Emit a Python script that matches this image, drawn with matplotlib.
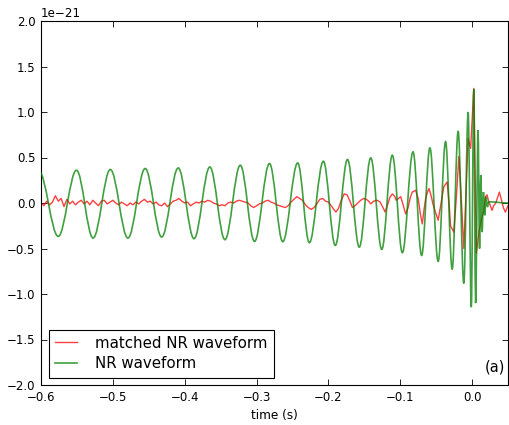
import numpy as np
import matplotlib
matplotlib.use("Agg")
import matplotlib.pyplot as plt
from matplotlib.path import Path
from matplotlib.patches import PathPatch
from matplotlib.lines import Line2D

# strain values are in units of 1e-21
SCALE = 1e-21

# NR waveform: times and values of its successive peaks and troughs
nr_t = [-0.603, -0.576, -0.5506, -0.5275, -0.5035, -0.479, -0.455, -0.432,
        -0.409, -0.387, -0.365, -0.344, -0.3226, -0.3028, -0.282, -0.2635,
        -0.2427, -0.2265, -0.207, -0.1904, -0.1734, -0.157, -0.141, -0.1257,
        -0.111, -0.097, -0.0822, -0.0702, -0.0587, -0.0472, -0.0369, -0.0277,
        -0.0194, -0.0115, -0.0055, -0.0011, 0.0024, 0.0049, 0.0083, 0.0104,
        0.0121, 0.0140, 0.0158, 0.0176, 0.0194, 0.0214, 0.0232, 0.050]
nr_v = [0.35, -0.367, 0.36, -0.385, 0.368, -0.385, 0.379, -0.374,
        0.385, -0.392, 0.396, -0.403, 0.415, -0.422, 0.434, -0.425,
        0.440, -0.436, 0.459, -0.466, 0.478, -0.485, 0.496, -0.51,
        0.525, -0.546, 0.562, -0.576, 0.606, -0.642, 0.675, -0.726,
        0.79, -0.884, 1.00, -1.145, 1.25, -1.10, 0.80, -0.50,
        0.305, -0.32, 0.12, -0.135, 0.066, -0.044, 0.013, 0.0]

# matched NR waveform, early part sampled every 4 ms from -0.600 s to -0.200 s
matched_early_t = np.arange(-0.600, -0.1999, 0.004)
matched_early_v = [0.00, -0.03, 0.02, -0.02, 0.01, 0.08, 0.02, 0.05, -0.04, 0.04,
                   -0.01, 0.02, -0.02, 0.01, 0.03, -0.01, 0.02, -0.02, 0.03, 0.00,
                   -0.03, 0.02, 0.03, -0.01, 0.01, 0.03, 0.00, -0.02, 0.01, -0.01,
                   -0.03, 0.00, -0.02, 0.01, -0.01, 0.02, 0.04, 0.01, 0.02, -0.01,
                   0.01, -0.02, -0.03, 0.00, -0.04, -0.01, 0.02, 0.03, 0.05, 0.02,
                   0.00, 0.01, -0.03, -0.01, 0.01, 0.00, 0.02, 0.01, 0.03, 0.02,
                   0.00, -0.01, -0.03, -0.02, -0.03, 0.00, 0.01, 0.00, 0.02, 0.03,
                   0.02, 0.01, 0.00, -0.03, -0.05, -0.03, -0.01, 0.00, 0.02, 0.03,
                   0.01, 0.00, -0.02, -0.03, -0.04, -0.05, -0.03, 0.01, 0.04, 0.07,
                   0.05, 0.03, -0.02, -0.05, -0.07, -0.05, -0.01, 0.04, 0.05, 0.02,
                   0.01]

# matched NR waveform, late part
matched_late_t = [-0.196, -0.1925, -0.1895, -0.186, -0.182, -0.178, -0.174, -0.170,
                  -0.1665, -0.163, -0.159, -0.155, -0.151, -0.147, -0.144, -0.141,
                  -0.137, -0.132, -0.128, -0.124, -0.121, -0.118, -0.1145, -0.111,
                  -0.1075, -0.1055, -0.1025, -0.0993, -0.096, -0.0924, -0.089, -0.086,
                  -0.0832, -0.0785, -0.075, -0.072, -0.0693, -0.067, -0.0646, -0.062,
                  -0.060, -0.057, -0.0545, -0.051, -0.0472, -0.0435, -0.0393, -0.0347,
                  -0.032, -0.030, -0.0254, -0.022, -0.0184, -0.015, -0.0115, -0.0085,
                  -0.0055, -0.002, 0.0024, 0.006, 0.010, 0.014, 0.0162, 0.0186,
                  0.0208, 0.023, 0.0255, 0.0277, 0.030, 0.033, 0.0355, 0.038,
                  0.041, 0.0435, 0.0463, 0.050]
matched_late_v = [-0.03, -0.07, -0.10, -0.06, 0.03, 0.10, 0.09, 0.02,
                  -0.05, -0.03, 0.00, 0.03, 0.05, 0.04, 0.02, -0.01,
                  0.02, 0.03, 0.01, -0.05, -0.10, -0.03, 0.06, 0.10,
                  0.07, 0.03, 0.05, 0.07, -0.02, -0.12, -0.05, 0.06,
                  0.12, 0.14, 0.05, -0.12, -0.23, -0.08, 0.05, 0.12,
                  0.16, 0.08, -0.01, -0.10, -0.19, -0.02, 0.18, 0.23,
                  0.00, -0.25, -0.32, 0.05, 0.51, 0.05, -0.50, 0.10,
                  0.71, 0.60, 1.26, -0.55, -0.30, -0.14, -0.10, 0.07,
                  0.09, 0.02, -0.03, -0.08, -0.03, 0.00, 0.06, 0.12,
                  0.03, -0.05, -0.10, -0.03]

matched_t = np.concatenate([matched_early_t, matched_late_t])
matched_v = np.concatenate([matched_early_v, matched_late_v]) * SCALE

plt.rcParams['font.family'] = ['DejaVu Sans']
fig = plt.figure(figsize=(5.09, 4.25), dpi=100)
ax = fig.add_axes([41 / 509, 40 / 425, 467 / 509, 364 / 425])

red = (1.0, 0.0, 0.0)
green = (0.0, 0.5, 0.0)

ax.plot(matched_t, matched_v, color=red, alpha=0.75, lw=1.0, zorder=2)

# NR waveform drawn as smooth cubic segments between its extrema
k = 1 - 2 / np.pi
verts = [(nr_t[0], nr_v[0] * SCALE)]
codes = [Path.MOVETO]
for i in range(len(nr_t) - 1):
    dt = nr_t[i + 1] - nr_t[i]
    verts += [(nr_t[i] + k * dt, nr_v[i] * SCALE),
              (nr_t[i + 1] - k * dt, nr_v[i + 1] * SCALE),
              (nr_t[i + 1], nr_v[i + 1] * SCALE)]
    codes += [Path.CURVE4] * 3
ax.add_patch(PathPatch(Path(verts, codes), facecolor='none', edgecolor=green,
                       alpha=0.75, lw=1.2, zorder=3))

ax.set_xlim(-0.6, 0.05)
ax.set_ylim(-2e-21, 2e-21)
ax.set_xticks(np.arange(-0.6, 0.001, 0.1))
ax.set_yticks(np.arange(-2.0, 2.01, 0.5) * SCALE)
ax.tick_params(direction='in', top=True, right=True, length=4, width=0.6,
               labelsize=8.5, pad=4)
ax.yaxis.get_offset_text().set_fontsize(8.6)
ax.set_xlabel('time (s)', fontsize=8.7)

handles = [Line2D([], [], color=red, alpha=0.75, lw=1.0),
           Line2D([], [], color=green, alpha=0.75, lw=1.2)]
leg = ax.legend(handles, ['matched NR waveform', 'NR waveform'], loc='lower left',
                fontsize=10.8, fancybox=False, framealpha=1, handlelength=1.5,
                handletextpad=1.2, labelspacing=0.4, borderpad=0.4)
leg.get_frame().set_edgecolor('black')
leg.get_frame().set_linewidth(0.8)

ax.text(0.993, 0.05, '(a)', transform=ax.transAxes, ha='right', va='center',
        fontsize=10.5)

fig.savefig('out.png', dpi=100)
